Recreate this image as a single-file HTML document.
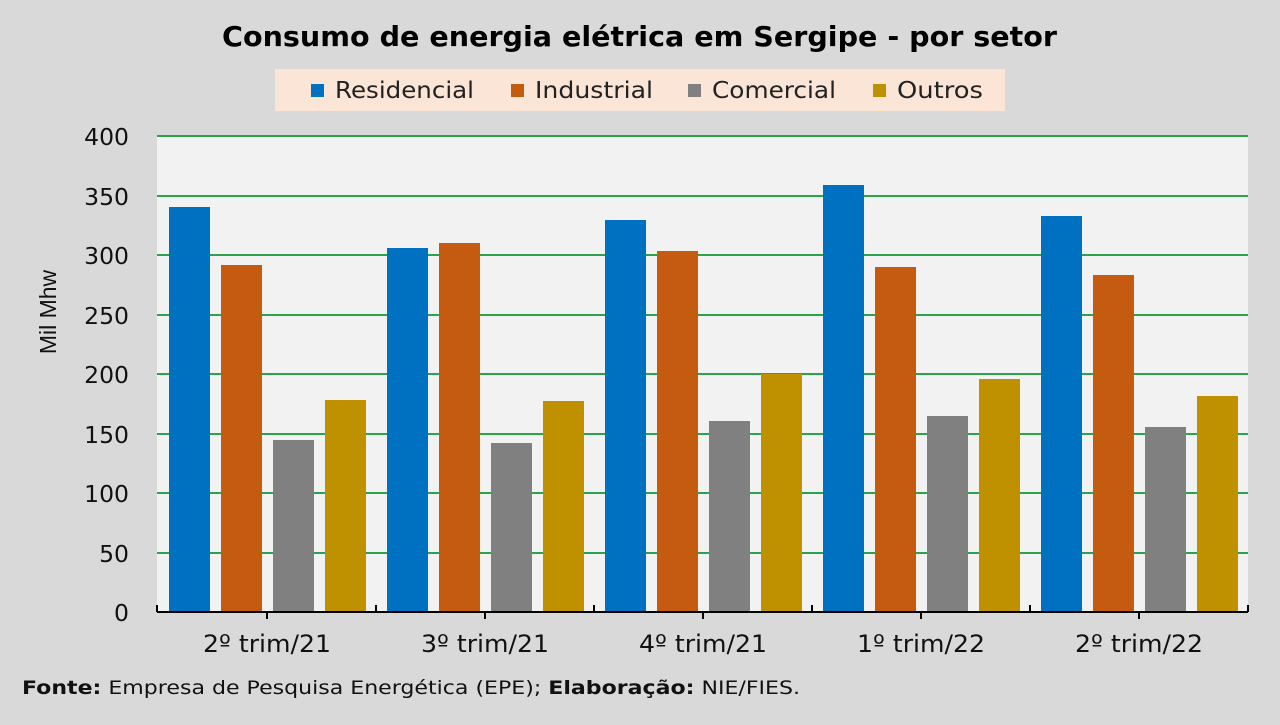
<!DOCTYPE html>
<html><head><meta charset="utf-8"><style>
body{margin:0;width:1280px;height:720px;background:#d9d9d9;overflow:hidden;font-family:"Liberation Sans","DejaVu Sans",sans-serif}
</style></head><body>
<svg width="1280" height="720" xmlns="http://www.w3.org/2000/svg" font-family="DejaVu Sans, Liberation Sans, sans-serif">
<rect width="1280" height="720" fill="#d9d9d9"/>
<text x="222" y="46" font-size="28" font-weight="bold" fill="#000" textLength="835" lengthAdjust="spacingAndGlyphs">Consumo de energia elétrica em Sergipe - por setor</text>
<rect x="275" y="69" width="730" height="42" fill="#fbe5d6"/>
<g font-size="23" fill="#222">
<rect x="311" y="84" width="13" height="13" fill="#0070c0"/><text x="335" y="98" textLength="139" lengthAdjust="spacingAndGlyphs">Residencial</text>
<rect x="511" y="84" width="13" height="13" fill="#c55a11"/><text x="535" y="98" textLength="118" lengthAdjust="spacingAndGlyphs">Industrial</text>
<rect x="688" y="84" width="13" height="13" fill="#808080"/><text x="712" y="98" textLength="124" lengthAdjust="spacingAndGlyphs">Comercial</text>
<rect x="873" y="84" width="13" height="13" fill="#bf9000"/><text x="897" y="98" textLength="86" lengthAdjust="spacingAndGlyphs">Outros</text>
</g>
<rect x="157" y="136" width="1091" height="476" fill="#f2f2f2"/>
<g stroke="#2ca24a" stroke-width="2">
<line x1="157" x2="1248" y1="136" y2="136"/><line x1="157" x2="1248" y1="196" y2="196"/>
<line x1="157" x2="1248" y1="255" y2="255"/><line x1="157" x2="1248" y1="315" y2="315"/>
<line x1="157" x2="1248" y1="374" y2="374"/><line x1="157" x2="1248" y1="434" y2="434"/>
<line x1="157" x2="1248" y1="493" y2="493"/><line x1="157" x2="1248" y1="553" y2="553"/>
</g>
<g font-size="23.5" fill="#111" text-anchor="end">
<text x="129" y="145">400</text><text x="129" y="205">350</text><text x="129" y="264">300</text>
<text x="129" y="324">250</text><text x="129" y="383">200</text><text x="129" y="443">150</text>
<text x="129" y="502">100</text><text x="129" y="562">50</text><text x="129" y="621">0</text>
</g>
<text transform="translate(56,312) rotate(-90)" text-anchor="middle" font-size="23" font-family="Liberation Sans, sans-serif" fill="#111">Mil Mhw</text>
<g>
<rect x="169" y="207" width="41" height="405" fill="#0070c0"/><rect x="221" y="265" width="41" height="347" fill="#c55a11"/><rect x="273" y="440" width="41" height="172" fill="#808080"/><rect x="325" y="400" width="41" height="212" fill="#bf9000"/>
<rect x="387" y="248" width="41" height="364" fill="#0070c0"/><rect x="439" y="243" width="41" height="369" fill="#c55a11"/><rect x="491" y="443" width="41" height="169" fill="#808080"/><rect x="543" y="401" width="41" height="211" fill="#bf9000"/>
<rect x="605" y="220" width="41" height="392" fill="#0070c0"/><rect x="657" y="251" width="41" height="361" fill="#c55a11"/><rect x="709" y="421" width="41" height="191" fill="#808080"/><rect x="761" y="374" width="41" height="238" fill="#bf9000"/>
<rect x="823" y="185" width="41" height="427" fill="#0070c0"/><rect x="875" y="267" width="41" height="345" fill="#c55a11"/><rect x="927" y="416" width="41" height="196" fill="#808080"/><rect x="979" y="379" width="41" height="233" fill="#bf9000"/>
<rect x="1041" y="216" width="41" height="396" fill="#0070c0"/><rect x="1093" y="275" width="41" height="337" fill="#c55a11"/><rect x="1145" y="427" width="41" height="185" fill="#808080"/><rect x="1197" y="396" width="41" height="216" fill="#bf9000"/>
</g>
<g stroke="#000" stroke-width="2">
<line x1="157" x2="1248" y1="612" y2="612"/>
<line x1="157" x2="157" y1="605" y2="612"/><line x1="376" x2="376" y1="605" y2="612"/><line x1="594" x2="594" y1="605" y2="612"/><line x1="812" x2="812" y1="605" y2="612"/><line x1="1030" x2="1030" y1="605" y2="612"/><line x1="1248" x2="1248" y1="605" y2="612"/>
<line x1="267" x2="267" y1="612" y2="619"/><line x1="485" x2="485" y1="612" y2="619"/><line x1="703" x2="703" y1="612" y2="619"/><line x1="921" x2="921" y1="612" y2="619"/><line x1="1139" x2="1139" y1="612" y2="619"/>
</g>
<g font-size="24" fill="#111" text-anchor="middle">
<text x="267" y="652" textLength="128" lengthAdjust="spacingAndGlyphs">2º trim/21</text><text x="485" y="652" textLength="128" lengthAdjust="spacingAndGlyphs">3º trim/21</text><text x="703" y="652" textLength="128" lengthAdjust="spacingAndGlyphs">4º trim/21</text><text x="921" y="652" textLength="128" lengthAdjust="spacingAndGlyphs">1º trim/22</text><text x="1139" y="652" textLength="128" lengthAdjust="spacingAndGlyphs">2º trim/22</text>
</g>
<text x="22" y="694" font-size="19" fill="#111" textLength="778" lengthAdjust="spacingAndGlyphs"><tspan font-weight="bold">Fonte:</tspan> Empresa de Pesquisa Energética (EPE); <tspan font-weight="bold">Elaboração:</tspan>  NIE/FIES.</text>
</svg>
</body></html>
